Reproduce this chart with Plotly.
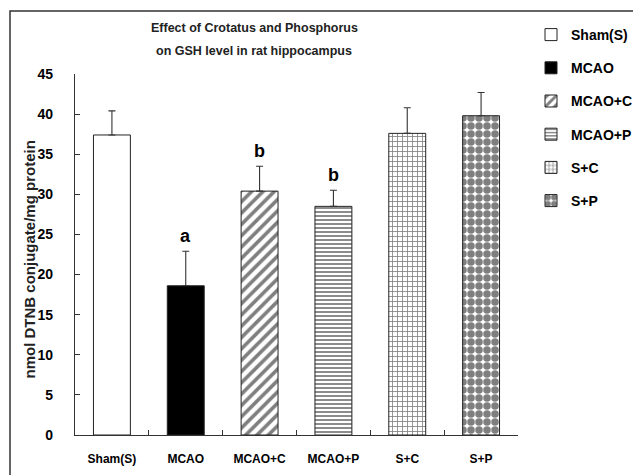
import plotly.graph_objects as go

categories = ["Sham(S)", "MCAO", "MCAO+C", "MCAO+P", "S+C", "S+P"]
means = [37.4, 18.6, 30.4, 28.5, 37.6, 39.8]
sem_up = [3.0, 4.3, 3.1, 2.0, 3.2, 2.9]
sig_letters = ["", "a", "b", "b", "", ""]

FONT = "Liberation Sans"

# figure geometry (page is offset by 8px body margin)
W, H = 633, 467
L, R, T, B = 67, 510, 66, 427   # plot area in figure px
PW, PH = R - L, B - T

def px(xp):
    return (xp - L) / PW

def py(yp):
    return (B - yp) / PH

styles = [
    dict(color="white", pattern=dict(shape="")),
    dict(color="black", pattern=dict(shape="")),
    dict(color="white", pattern=dict(shape="/", size=8, solidity=0.45, fgcolor="black", bgcolor="white")),
    dict(color="white", pattern=dict(shape="-", size=4, solidity=0.45, fgcolor="black", bgcolor="white")),
    dict(color="white", pattern=dict(shape="+", size=5, solidity=0.3, fgcolor="black", bgcolor="white")),
    dict(color="white", pattern=dict(shape=".", size=8, solidity=0.7, fgcolor="black", bgcolor="white")),
]

fig = go.Figure()
for i, cat in enumerate(categories):
    fig.add_trace(go.Bar(
        x=[cat], y=[means[i]], name=cat, legendgroup=cat,
        marker=dict(color=styles[i]["color"], pattern=styles[i]["pattern"],
                    line=dict(color="#222", width=1)),
        error_y=dict(type="data", symmetric=False, array=[sem_up[i]], arrayminus=[0],
                     color="#333", thickness=1.1, width=3.5),
        width=0.5,
    ))

for i, cat in enumerate(categories):
    if sig_letters[i]:
        fig.add_annotation(x=cat, y=means[i] + sem_up[i], text=f"<b>{sig_letters[i]}</b>",
                           showarrow=False, yanchor="bottom", yshift=3,
                           font=dict(family=FONT, size=18, color="black"))

title_lines = ["Effect of Crotatus and Phosphorus", "on GSH level in rat hippocampus"]
for j, line in enumerate(title_lines):
    fig.add_annotation(xref="paper", yref="paper", x=px(246), y=py(20 + 23 * j),
                       text=f"<b>{line}</b>", showarrow=False, xanchor="center", yanchor="middle",
                       font=dict(family=FONT, size=12.5, color="#222"))

fig.add_annotation(xref="paper", yref="paper", x=px(31), y=py(252), textangle=-90,
                   text="<b>nmol DTNB conjugate/mg protein</b>", showarrow=False,
                   xanchor="right", yanchor="middle",
                   font=dict(family=FONT, size=15, color="#222"))

fig.add_shape(type="rect", xref="paper", yref="paper",
              x0=px(2), x1=px(632), y0=py(490), y1=py(3),
              line=dict(color="#333", width=1.5), fillcolor="rgba(0,0,0,0)")

fig.update_layout(
    width=W, height=H,
    margin=dict(l=L, r=W - R, t=T, b=H - B, autoexpand=False),
    paper_bgcolor="white", plot_bgcolor="white",
    barmode="overlay",
    legend=dict(x=px(523), y=py(11), xanchor="left", yanchor="top",
                traceorder="grouped", tracegroupgap=12,
                font=dict(family=FONT, size=14, color="black", weight="bold"),
                itemwidth=30, bgcolor="rgba(0,0,0,0)"),
    font=dict(family=FONT, color="black"),
    showlegend=True,
)
fig.update_xaxes(showline=True, linecolor="#333", linewidth=1.2, ticks="inside", ticklen=5,
                 tickson="boundaries", tickcolor="#333", automargin=False, tickangle=0,
                 ticklabelstandoff=12,
                 tickfont=dict(family=FONT, size=12, weight="bold"), showgrid=False)
fig.update_yaxes(range=[0, 45], dtick=5, showline=True, linecolor="#333", linewidth=1.2,
                 ticks="inside", ticklen=5, tickcolor="#333", showgrid=False, zeroline=False,
                 automargin=False, ticklabelstandoff=18,
                 tickfont=dict(family=FONT, size=14, weight="bold"))

fig.write_html("out.html")
